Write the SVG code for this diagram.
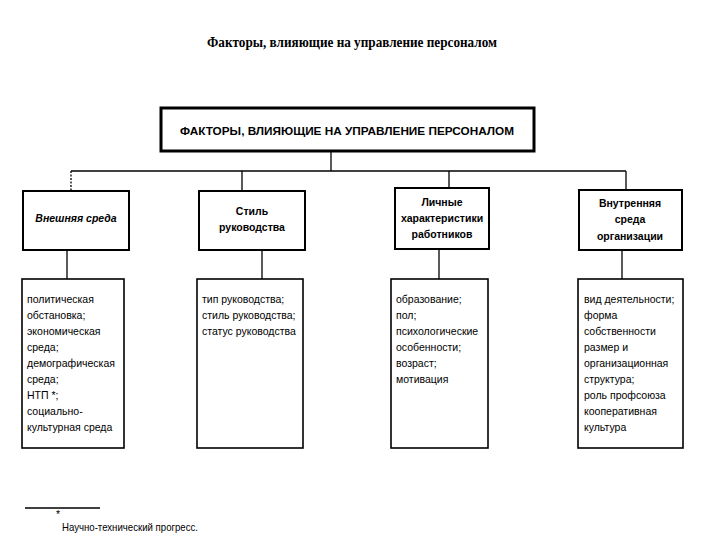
<svg xmlns="http://www.w3.org/2000/svg" width="720" height="540" viewBox="0 0 720 540">
<style>
.bg{fill:#fff}
.box{fill:#fff;stroke:#000;stroke-width:2}
.main{fill:#fff;stroke:#000;stroke-width:3}
.lbox{fill:#fff;stroke:#000;stroke-width:1.6}
.ln{stroke:#000;stroke-width:1.3;fill:none}
.t{font-family:"Liberation Sans",Arial,sans-serif;font-size:10.5px;fill:#000}
.h{font-family:"Liberation Sans",Arial,sans-serif;font-size:10.5px;font-weight:bold;fill:#000;text-anchor:middle}
.title{font-family:"Liberation Serif","Times New Roman",serif;font-size:14px;font-weight:bold;fill:#000;text-anchor:middle}
</style>
<rect class="bg" x="0" y="0" width="720" height="540"/>
<text class="title" x="352" y="47" textLength="290" lengthAdjust="spacingAndGlyphs">Факторы, влияющие на управление персоналом</text>

<g id="connectors">
<line class="ln" x1="331" y1="152" x2="331" y2="171"/>
<line class="ln" x1="71" y1="171" x2="626" y2="171"/>
<line class="ln" x1="71" y1="171" x2="71" y2="191" stroke-dasharray="2,1.5"/>
<line class="ln" x1="242" y1="171" x2="242" y2="191"/>
<line class="ln" x1="449" y1="171" x2="449" y2="188"/>
<line class="ln" x1="626" y1="171" x2="626" y2="190"/>
<line class="ln" x1="67" y1="250" x2="67" y2="279"/>
<line class="ln" x1="262" y1="250" x2="262" y2="279"/>
<line class="ln" x1="439" y1="249" x2="439" y2="279"/>
<line class="ln" x1="622" y1="250" x2="622" y2="279"/>
</g>

<g id="main">
<rect class="main" x="161" y="108" width="373" height="43"/>
<text class="h" x="347" y="135" textLength="334" lengthAdjust="spacingAndGlyphs">ФАКТОРЫ, ВЛИЯЮЩИЕ НА УПРАВЛЕНИЕ ПЕРСОНАЛОМ</text>
</g>

<g id="n1">
<rect class="box" x="23" y="191" width="106" height="59"/>
<text class="h" x="76" y="222" font-style="italic">Внешняя среда</text>
</g>
<g id="n2">
<rect class="box" x="199" y="191" width="106" height="59"/>
<text class="h" x="252" y="215">Стиль</text>
<text class="h" x="252" y="231">руководства</text>
</g>
<g id="n3">
<rect class="box" x="395" y="188" width="94" height="61"/>
<text class="h" x="442" y="206">Личные</text>
<text class="h" x="442" y="222">характеристики</text>
<text class="h" x="442" y="238">работников</text>
</g>
<g id="n4">
<rect class="box" x="579" y="190" width="103" height="60"/>
<text class="h" x="630" y="207">Внутренняя</text>
<text class="h" x="630" y="223">среда</text>
<text class="h" x="630" y="240" font-size="9px">организации</text>
</g>

<g id="l1">
<rect class="lbox" x="22" y="279" width="102" height="169"/>
<text class="t" x="27" y="303">политическая</text>
<text class="t" x="27" y="319">обстановка;</text>
<text class="t" x="27" y="335">экономическая</text>
<text class="t" x="27" y="351">среда;</text>
<text class="t" x="27" y="367">демографическая</text>
<text class="t" x="27" y="383">среда;</text>
<text class="t" x="27" y="399">НТП *;</text>
<text class="t" x="27" y="415">социально-</text>
<text class="t" x="27" y="431">культурная среда</text>
</g>
<g id="l2">
<rect class="lbox" x="197" y="279" width="106" height="169"/>
<text class="t" x="202" y="303">тип руководства;</text>
<text class="t" x="202" y="319">стиль руководства;</text>
<text class="t" x="202" y="335">статус руководства</text>
</g>
<g id="l3">
<rect class="lbox" x="391" y="279" width="97" height="169"/>
<text class="t" x="396" y="303">образование;</text>
<text class="t" x="396" y="319">пол;</text>
<text class="t" x="396" y="335">психологические</text>
<text class="t" x="396" y="351">особенности;</text>
<text class="t" x="396" y="367">возраст;</text>
<text class="t" x="396" y="383">мотивация</text>
</g>
<g id="l4">
<rect class="lbox" x="578" y="279" width="105" height="169"/>
<text class="t" x="584" y="303">вид деятельности;</text>
<text class="t" x="584" y="319">форма</text>
<text class="t" x="584" y="335">собственности</text>
<text class="t" x="584" y="351">размер и</text>
<text class="t" x="584" y="367">организационная</text>
<text class="t" x="584" y="383">структура;</text>
<text class="t" x="584" y="399">роль профсоюза</text>
<text class="t" x="584" y="415">кооперативная</text>
<text class="t" x="584" y="431">культура</text>
</g>

<g id="footnote">
<line class="ln" x1="25" y1="508" x2="100" y2="508"/>
<text class="t" x="56" y="518" font-size="8px">*</text>
<text class="t" x="62" y="531" font-size="9px" textLength="136" lengthAdjust="spacingAndGlyphs">Научно-технический прогресс.</text>
</g>
</svg>
